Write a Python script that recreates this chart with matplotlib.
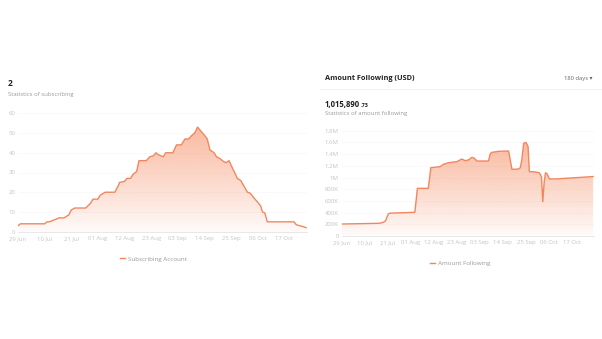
import numpy as np
import matplotlib
matplotlib.use("Agg")
import matplotlib.pyplot as plt
from matplotlib.colors import to_rgb

plt.rcParams['font.family'] = ['Open Sans', 'DejaVu Sans']

# x positions are days counted from 29 Jun
tick_days = [0, 11, 22, 33, 44, 55, 66, 77, 88, 99, 110]
tick_labels = ['29 Jun', '10 Jul', '21 Jul', '01 Aug', '12 Aug', '23 Aug',
               '03 Sep', '14 Sep', '25 Sep', '06 Oct', '17 Oct']

# subscribing accounts
sub_days = [0, 1, 11, 12, 13, 14, 15, 17, 19, 21, 22, 23.5, 28, 30, 31, 33, 34, 36,
            40, 41.5, 42, 44, 45, 46.5, 47.5, 49, 50, 53, 54.5, 56, 57, 58, 60, 61,
            64, 65.5, 67.5, 69, 70.5, 72, 73, 74.2, 75.2, 77.3, 78.2, 79.3, 81, 82,
            83.5, 85, 86, 87.2, 88.3, 89.7, 90.6, 92, 93.4, 94.8, 96, 97.2, 99,
            100.3, 101, 102, 103, 114, 115, 116.5, 118, 119]
sub_vals = [3, 4, 4, 5, 5, 5.5, 6, 7, 7, 8.5, 11, 12, 12, 14.5, 16.5, 16.5, 18.5, 20,
            20, 23.5, 25, 25.5, 27, 27, 29, 30.5, 36, 36, 38, 38.5, 40, 39, 38, 40,
            40, 44, 44, 47, 47, 49, 50, 53, 51.5, 48.5, 47, 41.5, 40, 38,
            37, 35.5, 35, 36, 33, 29.5, 27, 26, 23, 20, 19.5, 17.5, 15,
            13, 10, 9.5, 5, 5, 3.5, 3, 2.5, 2]
sub_yticks = [0, 10, 20, 30, 40, 50, 60]

# amount following (USD)
amt_days = [0, 18, 20, 21, 22.3, 23, 35, 36.2, 41.4, 42.6, 47, 48.6, 51, 55, 57.4,
            59, 60.6, 62.2, 63.4, 64.6, 70.1, 71, 71.8, 75, 79.7, 81.3, 84.5, 85.3,
            86, 86.9, 88, 89, 89.6, 92.5, 94.4, 95.4, 96, 96.7, 97.3, 98, 99.2, 102, 120]
amt_vals = [205000, 217000, 234000, 260000, 376000, 390000, 405000, 815000, 815000,
            1168000, 1185000, 1225000, 1253000, 1270000, 1316000, 1287000, 1300000,
            1345000, 1328000, 1282000, 1282000, 1410000, 1430000, 1448000, 1453000,
            1140000, 1145000, 1168000, 1300000, 1585000, 1600000, 1527000, 1100000,
            1095000, 1080000, 1010000, 586000, 930000, 1080000, 1065000, 975000,
            975000, 1015890.73]
amt_yticks = [0, 200000, 400000, 600000, 800000, 1000000, 1200000, 1400000, 1600000, 1800000]
amt_ylabels = ['0', '200K', '400K', '600K', '800K', '1M', '1.2M', '1.4M', '1.6M', '1.8M']

LINE = '#f2875f'
FILL = '#f7956f'
TICK = '#c4c4c4'
GREY = '#9a9a9a'

W, H = 602, 339
fig = plt.figure(figsize=(W / 100, H / 100), dpi=100)


def box(x0, x1, ytop, ybot):
    # pixel box -> figure fraction
    return [x0 / W, 1 - ybot / H, (x1 - x0) / W, (ybot - ytop) / H]


def gradient_area(ax, x, y, top):
    fill = ax.fill_between(x, y, 0, color='none', lw=0)
    path = fill.get_paths()[0]
    r, g, b = to_rgb(FILL)
    a = 0.03 + 0.62 * np.linspace(0.0, 1.0, 256) ** 0.9
    img = np.zeros((256, 1, 4))
    img[:, 0, 0], img[:, 0, 1], img[:, 0, 2], img[:, 0, 3] = r, g, b, a
    im = ax.imshow(img, extent=[min(x), max(x), 0, top], origin='lower',
                   aspect='auto', zorder=1)
    im.set_clip_path(path, transform=ax.transData)
    ax.plot(x, y, color=LINE, lw=1.0, zorder=3)


def style(ax, yticks, ylabels, xlim, ylim):
    ax.set_xlim(*xlim)
    ax.set_ylim(*ylim)
    ax.set_xticks(tick_days)
    ax.set_xticklabels(tick_labels)
    ax.set_yticks(yticks)
    ax.set_yticklabels(ylabels)
    ax.tick_params(length=0, labelsize=4.3, colors=TICK)
    ax.tick_params(axis='x', pad=3)
    ax.tick_params(axis='y', pad=2)
    for s in ['top', 'right', 'left']:
        ax.spines[s].set_visible(False)
    ax.spines['bottom'].set_color('#e4e4e4')
    ax.spines['bottom'].set_linewidth(0.6)
    ax.grid(axis='y', color='#f7f7f7', lw=0.5)
    ax.set_axisbelow(True)


# left panel
ax1 = fig.add_axes(box(18, 306.5, 113.3, 231.7))
gradient_area(ax1, sub_days, sub_vals, 53)
style(ax1, sub_yticks, [str(v) for v in sub_yticks], (0, 119.2), (0, 60))
h1, = ax1.plot([], [], color=LINE, lw=1.0)
ax1.legend([h1], ['Subscribing Account'], loc='upper center', bbox_to_anchor=(0.47, -0.16),
           frameon=False, fontsize=4.5, handlelength=0.8, handletextpad=0.5, labelcolor=GREY)

fig.text(8 / W, 1 - 84 / H, '2', fontsize=6, fontweight='bold', color='#222222', va='center')
fig.text(8 / W, 1 - 94.5 / H, 'Statistics of subscribing', fontsize=4.3, color=GREY, va='center')

# right panel
ax2 = fig.add_axes(box(341.5, 593.5, 130.7, 236))
gradient_area(ax2, amt_days, amt_vals, 1600000)
style(ax2, amt_yticks, amt_ylabels, (0, 120.2), (0, 1800000))
h2, = ax2.plot([], [], color=LINE, lw=1.0)
ax2.legend([h2], ['Amount Following'], loc='upper center', bbox_to_anchor=(0.47, -0.18),
           frameon=False, fontsize=4.5, handlelength=0.8, handletextpad=0.5, labelcolor=GREY)

fig.text(325 / W, 1 - 78.5 / H, 'Amount Following (USD)', fontsize=5.3, fontweight='bold',
         color='#222222', va='center')
fig.text(593 / W, 1 - 78.5 / H, '180 days \u25BE', fontsize=4.2, color='#666666',
         va='center', ha='right')
fig.add_artist(plt.Line2D([320 / W, 1], [1 - 89 / H, 1 - 89 / H], color='#efefef', lw=0.6))
fig.text(325 / W, 1 - 107 / H, '1,015,890', fontsize=5.6, fontweight='bold',
         color='#222222', va='baseline')
fig.text(360.5 / W, 1 - 107 / H, '.73', fontsize=4.0, fontweight='bold',
         color='#222222', va='baseline')
fig.text(325 / W, 1 - 113.5 / H, 'Statistics of amount following', fontsize=4.3,
         color=GREY, va='center')

fig.savefig('out.png', dpi=100, facecolor='white')
